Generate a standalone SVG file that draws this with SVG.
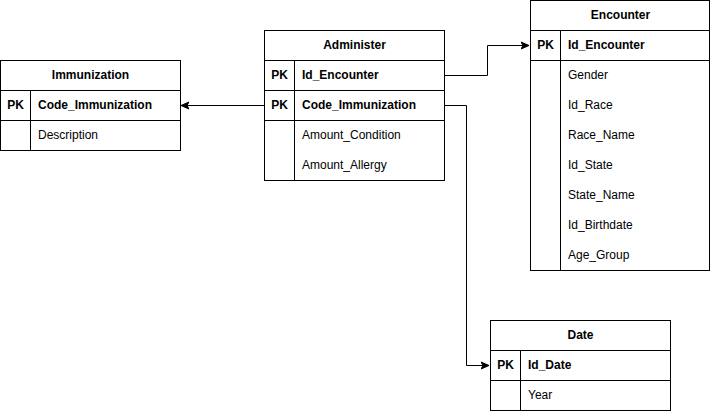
<svg xmlns="http://www.w3.org/2000/svg" width="711" height="411" viewBox="0 0 711 411">
<style>
text{font-family:"Liberation Sans",Arial,sans-serif;font-size:12px;fill:#000;dominant-baseline:central}
.h{font-weight:bold;text-anchor:middle}
.pk{font-weight:bold;text-anchor:middle}
.b{font-weight:bold}
.box{fill:#fff;stroke:#000;stroke-width:1}
.ln{fill:none;stroke:#000;stroke-width:1}
</style>
<defs>
<marker id="arr" markerWidth="10" markerHeight="10" refX="8" refY="5" orient="auto" markerUnits="userSpaceOnUse">
<path d="M0,1.5 L8,5 L0,8.5 L2,5 Z" fill="#000" stroke="#000" stroke-width="1"/>
</marker>
</defs>
<rect width="711" height="411" fill="#fff"/>
<g id="connectors">
<path class="ln" d="M444.5,75.5 H487.5 V45.5 H529" marker-end="url(#arr)"/>
<path class="ln" d="M264.5,105.5 H181" marker-end="url(#arr)"/>
<path class="ln" d="M444.5,105.5 H466.5 V365.5 H489" marker-end="url(#arr)"/>
</g>
<g id="immunization">
<rect class="box" x="0.5" y="60.5" width="180" height="90"/>
<path class="ln" d="M0.5,90.5 H180.5 M0.5,120.5 H180.5 M30.5,90.5 V150.5"/>
<text class="h" x="90.5" y="74.5">Immunization</text>
<text class="pk" x="15.5" y="104.5">PK</text>
<text class="b" x="38" y="104.5">Code_Immunization</text>
<text x="38" y="134.5">Description</text>
</g>
<g id="administer">
<rect class="box" x="264.5" y="30.5" width="180" height="150"/>
<path class="ln" d="M264.5,60.5 H444.5 M264.5,90.5 H444.5 M264.5,120.5 H444.5 M294.5,60.5 V180.5"/>
<text class="h" x="354.5" y="44.5">Administer</text>
<text class="pk" x="279.5" y="74.5">PK</text>
<text class="b" x="302" y="74.5">Id_Encounter</text>
<text class="pk" x="279.5" y="104.5">PK</text>
<text class="b" x="302" y="104.5">Code_Immunization</text>
<text x="302" y="134.5">Amount_Condition</text>
<text x="302" y="164.5">Amount_Allergy</text>
</g>
<g id="encounter">
<rect class="box" x="530.5" y="0.5" width="179" height="270"/>
<path class="ln" d="M530.5,30.5 H709.5 M530.5,60.5 H709.5 M560.5,30.5 V270.5"/>
<text class="h" x="620.5" y="14.5">Encounter</text>
<text class="pk" x="545.5" y="44.5">PK</text>
<text class="b" x="568" y="44.5">Id_Encounter</text>
<text x="568" y="74.5">Gender</text>
<text x="568" y="104.5">Id_Race</text>
<text x="568" y="134.5">Race_Name</text>
<text x="568" y="164.5">Id_State</text>
<text x="568" y="194.5">State_Name</text>
<text x="568" y="224.5">Id_Birthdate</text>
<text x="568" y="254.5">Age_Group</text>
</g>
<g id="date">
<rect class="box" x="490.5" y="320.5" width="180" height="90"/>
<path class="ln" d="M490.5,350.5 H670.5 M490.5,380.5 H670.5 M520.5,350.5 V410.5"/>
<text class="h" x="580.5" y="334.5">Date</text>
<text class="pk" x="505.5" y="364.5">PK</text>
<text class="b" x="528" y="364.5">Id_Date</text>
<text x="528" y="394.5">Year</text>
</g>
</svg>
